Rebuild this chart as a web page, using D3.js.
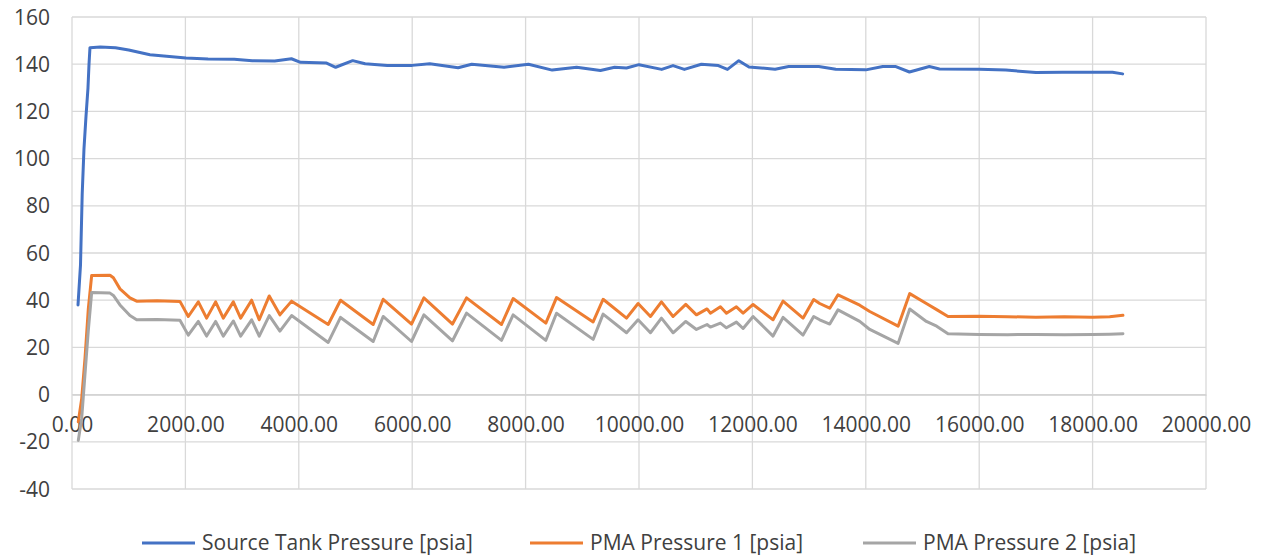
<!DOCTYPE html>
<html>
<head>
<meta charset="utf-8">
<script src="https://cdn.jsdelivr.net/npm/d3@7"></script>
<style>
  body { margin: 0; background: #fff; }
  text { font-family: "Open Sans", sans-serif; fill: #404040; }
</style>
</head>
<body>
<svg id="chart" width="1265" height="556"></svg>
<script>
// source tank pressure, time [s] and psia
var srcTime = [106, 150, 180, 211, 247, 282, 300, 317, 500, 767, 1000, 1375, 2010, 2400, 2860, 3180, 3575, 3870,
  4030, 4490, 4650, 4950, 5170, 5560, 6000, 6310, 6810, 7050, 7620, 8050, 8470, 8900, 9320, 9570, 9780,
  10000, 10400, 10600, 10800, 11100, 11400, 11560, 11760, 11940, 12400, 12640, 13170, 13470, 14000, 14300,
  14530, 14770, 15120, 15300, 16000, 16470, 17000, 17470, 18350, 18530];
var srcPsia = [38, 55, 85, 104, 118, 130, 140, 147, 147.3, 147, 146, 144, 142.6, 142.2, 142.1, 141.5, 141.4, 142.3,
  140.8, 140.5, 138.7, 141.5, 140.2, 139.5, 139.5, 140.2, 138.5, 140, 138.7, 140, 137.5, 138.7, 137.3, 138.7, 138.4,
  139.8, 137.8, 139.4, 137.8, 140, 139.4, 137.8, 141.5, 138.8, 137.9, 139, 139, 137.9, 137.6, 139,
  139, 136.7, 139, 138, 137.9, 137.5, 136.5, 136.6, 136.6, 135.9];

// PMA pressures share the same time stamps
var pmaTime = [111, 171, 229, 288, 347, 670, 730, 846, 1022, 1140, 1500, 1904, 2051, 2228, 2374, 2533, 2668,
  2845, 2974, 3168, 3302, 3479, 3667, 3873, 4519, 4736, 5312, 5488, 5988, 6206, 6711, 6958, 7575, 7780,
  8357, 8545, 9191, 9367, 9780, 9984, 10202, 10396, 10601, 10825, 11013, 11200, 11259, 11436, 11542,
  11718, 11836, 12012, 12364, 12540, 12893, 13081, 13187, 13364, 13510, 13893, 14070, 14570, 14775,
  15068, 15250, 15450, 16000, 16500, 17000, 17500, 18000, 18300, 18535];
var pma1Psia = [-11.5, -1.7, 15.3, 36.4, 50.5, 50.6, 49.5, 44.8, 41, 39.6, 39.8, 39.5, 33.1, 39.3, 32.4, 39.3, 32.4,
  39.3, 32.4, 40, 31.7, 41.8, 33.8, 39.6, 29.7, 40, 29.7, 40.4, 29.9, 41, 29.9, 41, 29.7, 40.7,
  30.3, 41.1, 30.8, 40.4, 32.4, 38.6, 33.1, 39.3, 33.1, 38.2, 33.8, 36.3, 34.5, 37.2, 34.5,
  37.2, 34.5, 38.2, 31.7, 39.6, 32.4, 40.3, 38.6, 36.6, 42.3, 37.9, 35.2, 29, 42.8,
  38.6, 36, 33.1, 33.2, 33, 32.8, 33, 32.8, 33, 33.6];
var pma2Psia = [-19.4, -10, 8.6, 27.3, 43.3, 43, 42, 38, 33.5, 31.7, 31.8, 31.5, 25.2, 31, 24.8, 31, 24.8,
  31.2, 24.8, 31.7, 24.8, 33.5, 26.9, 33.5, 22.1, 32.7, 22.5, 33.1, 22.5, 33.8, 22.8, 34.5, 23, 33.8,
  23, 34.5, 23.4, 34.1, 26.2, 31.7, 26.2, 32.4, 26.2, 31, 27.6, 29.7, 28.6, 30.3, 28.3,
  30.7, 28, 33.1, 24.8, 32.7, 25.2, 33.1, 31.7, 29.9, 35.9, 31, 27.6, 21.7, 36.3,
  31, 29, 25.8, 25.5, 25.4, 25.5, 25.4, 25.5, 25.6, 25.8];

var xTicks = d3.range(0, 20001, 2000);
var yTicks = d3.range(-40, 161, 20);

var series = [
  { name: 'Source Tank Pressure [psia]', time: srcTime, psia: srcPsia, color: '#4472C4' },
  { name: 'PMA Pressure 1 [psia]', time: pmaTime, psia: pma1Psia, color: '#ED7D31' },
  { name: 'PMA Pressure 2 [psia]', time: pmaTime, psia: pma2Psia, color: '#A5A5A5' }
];

var plotLeft = 72, plotRight = 1206, plotTop = 17, plotBottom = 489;
var legendX = [142, 530, 863];

var svg = d3.select('#chart');

var x = d3.scaleLinear().domain([0, 20000]).range([plotLeft, plotRight]);
var y = d3.scaleLinear().domain([-40, 160]).range([plotBottom, plotTop]);

// gridlines
svg.append('g')
  .selectAll('line')
  .data(yTicks)
  .enter()
  .append('line')
  .attr('x1', plotLeft).attr('x2', plotRight)
  .attr('y1', d => y(d)).attr('y2', d => y(d))
  .attr('stroke', '#D9D9D9').attr('stroke-width', 1.3);

svg.append('g')
  .selectAll('line')
  .data(xTicks)
  .enter()
  .append('line')
  .attr('x1', d => x(d)).attr('x2', d => x(d))
  .attr('y1', plotTop).attr('y2', plotBottom)
  .attr('stroke', '#D9D9D9').attr('stroke-width', 1.3);

// y labels
svg.append('g')
  .selectAll('text')
  .data(yTicks)
  .enter()
  .append('text')
  .attr('x', 50)
  .attr('y', d => y(d))
  .attr('dy', '0.36em')
  .attr('text-anchor', 'end')
  .style('font-size', '21px')
  .text(d => d);

// x axis sits on zero
var xAxis = d3.axisBottom(x).tickValues(xTicks).tickSize(0).tickPadding(22)
  .tickFormat(d3.format('.2f'));
var gx = svg.append('g')
  .attr('transform', 'translate(0,' + y(0) + ')')
  .call(xAxis);
gx.select('.domain').attr('stroke', '#D0D0D0').attr('stroke-width', 1.3);
gx.selectAll('text')
  .style('font-size', '21px')
  .style('font-family', '"Open Sans", sans-serif')
  .attr('fill', '#404040');

// series
var line = d3.line()
  .x(d => x(d[0]))
  .y(d => y(d[1]));

series.forEach(function (s) {
  var pts = s.time.map((t, i) => [t, s.psia[i]]);
  svg.append('path')
    .datum(pts)
    .attr('d', line)
    .attr('fill', 'none')
    .attr('stroke', s.color)
    .attr('stroke-width', 3)
    .attr('stroke-linejoin', 'round')
    .attr('stroke-linecap', 'round');
});

// legend
var legend = svg.append('g');
var ly = 543;
series.forEach(function (s, i) {
  var lx = legendX[i];
  legend.append('line')
    .attr('x1', lx).attr('x2', lx + 53)
    .attr('y1', ly).attr('y2', ly)
    .attr('stroke', s.color).attr('stroke-width', 3);
  legend.append('text')
    .attr('x', lx + 60)
    .attr('y', ly)
    .attr('dy', '0.34em')
    .style('font-size', '21px')
    .text(s.name);
});
</script>
</body>
</html>
